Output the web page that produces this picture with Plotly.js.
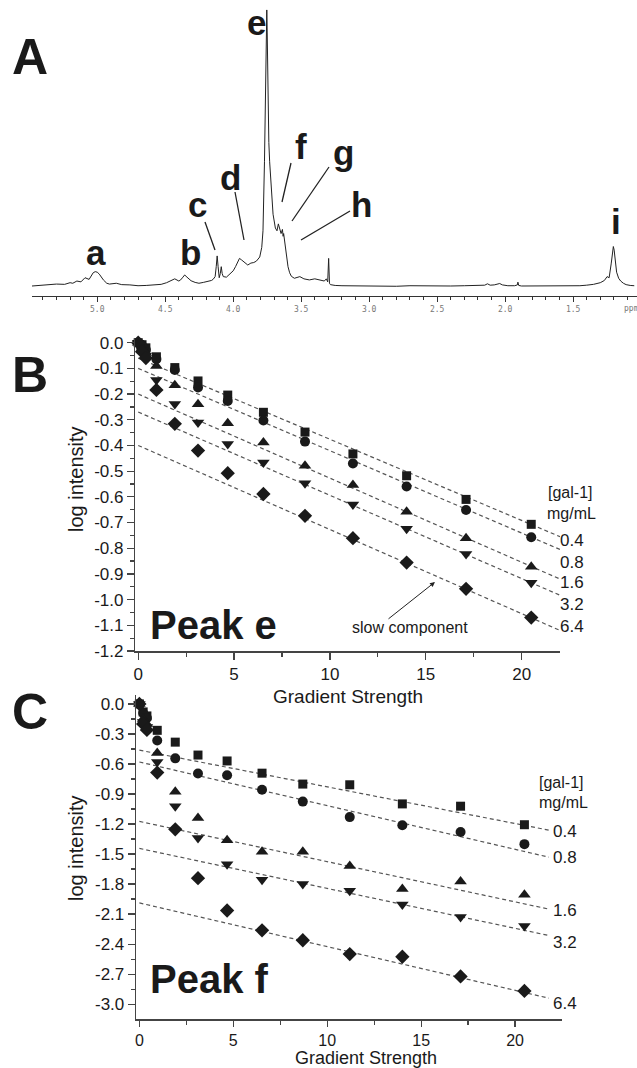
<!DOCTYPE html>
<html><head><meta charset="utf-8">
<script src="https://cdn.plot.ly/plotly-3.0.1.min.js"></script>
<style>html,body{margin:0;padding:0;background:#fff}#chart{width:637px;height:1068px}</style>
</head><body><div id="chart"></div>
<script>
// ---------- Panel A: 1H NMR spectrum (ppm vs relative intensity) ----------
const specPpm = [
 5.48,5.42,5.36,5.30,5.24,5.20,5.18,5.15,5.12,5.09,
 5.06,5.03,5.015,5.0,4.985,4.955,4.93,4.91,4.86,4.82,
 4.76,4.70,4.64,4.58,4.53,4.49,4.45,4.43,4.40,4.387,
 4.37,4.357,4.34,4.31,4.28,4.252,4.22,4.193,4.16,4.148,
 4.133,4.125,4.118,4.111,4.103,4.095,4.088,4.081,4.073,4.05,
 4.028,4.0,3.983,3.965,3.954,3.94,3.924,3.91,3.893,3.87,
 3.849,3.83,3.805,3.79,3.781,3.77,3.762,3.756,3.753,3.750,
 3.745,3.738,3.732,3.72,3.707,3.69,3.678,3.668,3.658,3.648,
 3.638,3.633,3.629,3.622,3.614,3.605,3.597,3.585,3.572,3.55,
 3.51,3.48,3.44,3.40,3.36,3.33,3.315,3.305,3.298,3.292,
 3.285,3.25,3.2,3.1,3.0,2.9,2.8,2.7,2.6,2.5,
 2.4,2.3,2.2,2.15,2.13,2.11,2.08,2.05,2.04,2.02,
 1.98,1.93,1.91,1.906,1.90,1.88,1.8,1.7,1.6,1.5,
 1.45,1.40,1.35,1.30,1.27,1.25,1.235,1.22,1.21,1.204,
 1.198,1.19,1.18,1.165,1.15,1.13,1.11,1.08,1.05];
const specInt = [
 0,0.2,0.3,0.7,0.6,1.2,1.0,1.8,1.5,3.0,
 2.4,4.8,5.2,5.0,4.3,2.2,1.0,0.7,1.0,0.5,
 0.4,0.1,0.2,0.3,0.6,1.2,2.0,2.6,1.8,2.2,
 3.2,4.0,3.2,1.9,1.3,1.0,1.3,1.6,2.0,2.4,
 3.4,7.0,10.9,7.0,3.0,4.5,7.0,4.5,3.4,3.2,
 4.3,5.5,7.0,9.3,10.0,9.5,8.8,8.0,7.6,8.3,
 8.5,9.0,10.5,14.0,20.0,45,75,92,100,92,
 72,52,45,35,26,21,20,22.5,21,19,
 20.5,18,19,16,12,9,7,4.8,3.5,2.8,
 3.4,2.6,2.2,2.6,2.3,1.8,2.6,1.5,10.0,1.0,
 0.5,0.2,0.1,0.0,0.1,0,-0.1,0.1,0,-0.1,
 0,0.1,0.1,0.3,0.8,0.3,0.4,0.7,0.9,0.4,
 0.1,0.1,0.4,1.4,0.2,0,0,-0.1,0,0,
 0.1,0.3,0.6,1.2,2.0,3.4,3.0,8.0,12.5,14.3,
 13.0,9.0,5.0,2.8,1.8,1.0,0.5,0.2,0.1];
const ppmTickVals = [5.0,4.5,4.0,3.5,3.0,2.5,2.0,1.5];
const ppmTickText = ['5.0','4.5','4.0','3.5','3.0','2.5','2.0','1.5'];
const peakLetters = ['a','b','c','d','e','f','g','h','i'];

// ---------- Panels B and C ----------
const concLabels = ['0.4','0.8','1.6','3.2','6.4'];
const gradient = [0, 0.2, 0.4, 0.95, 1.91, 3.12, 4.67, 6.53, 8.70, 11.2, 14.0, 17.1, 20.5];

// Peak e (panel B) log intensity
const peakE_04 = [0,-0.008,-0.02,-0.055,-0.097,-0.149,-0.204,-0.271,-0.348,-0.433,-0.518,-0.61,-0.707];
const peakE_08 = [0,-0.012,-0.028,-0.064,-0.106,-0.174,-0.227,-0.303,-0.385,-0.47,-0.56,-0.651,-0.757];
const peakE_16 = [0,-0.02,-0.04,-0.091,-0.166,-0.24,-0.314,-0.389,-0.479,-0.554,-0.658,-0.761,-0.872];
const peakE_32 = [0,-0.03,-0.05,-0.145,-0.239,-0.311,-0.394,-0.466,-0.547,-0.63,-0.724,-0.822,-0.934];
const peakE_64 = [0,-0.035,-0.06,-0.184,-0.316,-0.42,-0.508,-0.589,-0.674,-0.761,-0.856,-0.958,-1.07];
// slow-component fit lines (panel B), at x = fitB_x
const fitB_x = [0, 22];
const fitE_04 = [-0.06, -0.755];
const fitE_08 = [-0.10, -0.805];
const fitE_16 = [-0.20, -0.92];
const fitE_32 = [-0.27, -0.983];
const fitE_64 = [-0.40, -1.12];

// Peak f (panel C) log intensity
const peakF_04 = [0,-0.08,-0.12,-0.264,-0.382,-0.511,-0.57,-0.692,-0.801,-0.808,-0.999,-1.022,-1.207];
const peakF_08 = [0,-0.09,-0.14,-0.366,-0.544,-0.696,-0.712,-0.857,-0.976,-1.131,-1.213,-1.279,-1.401];
const peakF_16 = [0,-0.15,-0.20,-0.49,-0.877,-1.141,-1.362,-1.477,-1.477,-1.619,-1.85,-1.774,-1.906];
const peakF_32 = [0,-0.18,-0.23,-0.58,-1.022,-1.339,-1.602,-1.757,-1.80,-1.866,-2.005,-2.13,-2.219];
const peakF_64 = [0,-0.20,-0.26,-0.686,-1.253,-1.741,-2.064,-2.262,-2.361,-2.499,-2.526,-2.723,-2.868];
const fitC_x = [0, 21.8];
const fitF_04 = [-0.462, -1.261];
const fitF_08 = [-0.58, -1.531];
const fitF_16 = [-1.174, -2.05];
const fitF_32 = [-1.444, -2.314];
const fitF_64 = [-1.988, -2.94];

const tickValsB = [0,-0.1,-0.2,-0.3,-0.4,-0.5,-0.6,-0.7,-0.8,-0.9,-1.0,-1.1,-1.2];
const tickTextB = ['0.0','-0.1','-0.2','-0.3','-0.4','-0.5','-0.6','-0.7','-0.8','-0.9','-1.0','-1.1','-1.2'];
const tickValsC = [0,-0.3,-0.6,-0.9,-1.2,-1.5,-1.8,-2.1,-2.4,-2.7,-3.0];
const tickTextC = ['0.0','-0.3','-0.6','-0.9','-1.2','-1.5','-1.8','-2.1','-2.4','-2.7','-3.0'];
const xTickVals = [0,5,10,15,20];
const xTickText = ['0','5','10','15','20'];

// ---------- helpers ----------
const W = 637, H = 1068;
const px = x => x / W;
const py = y => 1 - y / H;
const FONT = 'Liberation Sans, Arial, sans-serif';
const INK = '#1a1a1a';
const symbols = ['square','circle','triangle-up','triangle-down','diamond'];
const msizes = [9,10,11,11,11];

const traces = [];
traces.push({x: specPpm, y: specInt, xaxis:'x', yaxis:'y', mode:'lines',
  line:{color:'#222', width:1}, hoverinfo:'skip'});

function addPanel(xa, ya, fx, fits, pts) {
  fits.forEach(f => traces.push({x: fx, y: f, xaxis: xa, yaxis: ya, mode:'lines',
    line:{color:'#555', width:1.2, dash:'4px,3px'}, hoverinfo:'skip'}));
  pts.forEach((p, i) => traces.push({x: gradient, y: p, xaxis: xa, yaxis: ya, mode:'markers',
    cliponaxis:false, marker:{symbol: symbols[i], size: msizes[i], color: INK, line:{width:0}}}));
}
addPanel('x2','y2', fitB_x, [fitE_04,fitE_08,fitE_16,fitE_32,fitE_64], [peakE_04,peakE_08,peakE_16,peakE_32,peakE_64]);
addPanel('x3','y3', fitC_x, [fitF_04,fitF_08,fitF_16,fitF_32,fitF_64], [peakF_04,peakF_08,peakF_16,peakF_32,peakF_64]);

const annotations = [];
function ann(text, x, y, size, opt) {
  annotations.push(Object.assign({text, x: px(x), y: py(y), xref:'paper', yref:'paper',
    showarrow:false, xanchor:'center', yanchor:'middle',
    font:{family: FONT, size, color: INK}}, opt || {}));
}
// Panel letters
ann('<b>A</b>', 30, 57, 50);
ann('<b>B</b>', 30, 375, 50);
ann('<b>C</b>', 30, 712, 50);
// Spectrum peak letters
const letterPos = [[96,253],[190,252],[197,205],[230,177],[256,22],[301,147],[343,152],[362,205],[616,222]];
peakLetters.forEach((l, i) => ann('<b>' + l + '</b>', letterPos[i][0], letterPos[i][1], 35));
ann('ppm', 622, 308, 8, {xanchor:'left', font:{family:'DejaVu Sans Mono, monospace', size:8, color:'#777'}});

// Leader lines from peak letters to the spectrum (pixel endpoints)
const leaders = [[205,222,215,250],[235,192,244,240],[291,163,282,202],[329,167,292,221],[350,211,301,240]];
const shapes = leaders.map(l => ({type:'line', xref:'paper', yref:'paper',
  x0: px(l[0]), y0: py(l[1]), x1: px(l[2]), y1: py(l[3]), line:{color:'#222', width:1.3}}));

// Panel B labels
ann('<b>Peak e</b>', 148, 625, 40, {xanchor:'left'});
ann('slow component', 410, 627, 16);
annotations.push({text:'', xref:'paper', yref:'paper', x: px(435), y: py(582), ax: -48, ay: 38,
  showarrow:true, arrowhead:2, arrowsize:1, arrowwidth:1, arrowcolor:'#222', standoff:0});
ann('[gal-1]', 570, 492, 16);
ann('mg/mL', 571, 513, 16);
const concYB = [540, 562, 583, 604, 626];
concLabels.forEach((c, i) => ann(c, 572, concYB[i], 17));
ann('Gradient Strength', 348, 696, 19);
ann('log intensity', 76, 479, 20, {textangle:-90});

// Panel C labels
ann('<b>Peak f</b>', 148, 979, 40, {xanchor:'left'});
ann('[gal-1]', 561, 782, 16);
ann('mg/mL', 563, 802, 16);
const concYC = [831, 857, 910, 942, 1003];
concLabels.forEach((c, i) => ann(c, 565, concYC[i], 17));
ann('Gradient Strength', 366, 1058, 18, {yanchor:'middle'});
ann('log intensity', 76, 848, 20, {textangle:-90});

const axBase = {showgrid:false, zeroline:false, showline:true, linecolor:'#444', linewidth:1.5,
  ticks:'outside', ticklen:7, tickwidth:1.2, tickcolor:'#444', tickfont:{family: FONT, size:17, color: INK}};

const layout = {
  width: W, height: H, autosize:false, showlegend:false,
  margin:{l:0, r:0, t:0, b:0}, paper_bgcolor:'#fff', plot_bgcolor:'#fff',
  xaxis: {domain:[px(32), 1], range:[5.48, 1.03], anchor:'y', showgrid:false, zeroline:false,
    showline:true, linecolor:'#333', linewidth:1, ticks:'outside', ticklen:5, tickwidth:1, tickcolor:'#333',
    tickmode:'array', tickvals: ppmTickVals, ticktext: ppmTickText,
    tickfont:{family:'DejaVu Sans Mono, monospace', size:8, color:'#777'},
    minor:{dtick:0.1, tick0:0, ticks:'outside', ticklen:3, tickcolor:'#333', showgrid:false}},
  yaxis: {domain:[py(296), 1], range:[-3.62, 103.6], visible:false, fixedrange:true},
  xaxis2: Object.assign({}, axBase, {domain:[px(135.4), px(560)], range:[-0.146, 22.0], anchor:'y2',
    tickmode:'array', tickvals: xTickVals, ticktext: xTickText,
    minor:{dtick:2.5, tick0:0, ticks:'outside', ticklen:4, tickcolor:'#444', showgrid:false}}),
  yaxis2: Object.assign({}, axBase, {domain:[py(651), py(338.3)], range:[-1.2, 0.017], anchor:'x2',
    tickmode:'array', tickvals: tickValsB, ticktext: tickTextB,
    minor:{dtick:0.05, tick0:0, ticks:'outside', ticklen:4, tickcolor:'#444', showgrid:false}}),
  xaxis3: Object.assign({}, axBase, {domain:[px(136.2), px(561.8)], range:[-0.17, 22.49], anchor:'y3',
    tickmode:'array', tickvals: xTickVals, ticktext: xTickText, ticklen:6,
    tickfont:{family: FONT, size:16, color: INK},
    minor:{dtick:2.5, tick0:0, ticks:'outside', ticklen:4, tickcolor:'#444', showgrid:false}}),
  yaxis3: Object.assign({}, axBase, {domain:[py(1019), py(695)], range:[-3.148, 0.089], anchor:'x3',
    tickmode:'array', tickvals: tickValsC, ticktext: tickTextC,
    minor:{dtick:0.15, tick0:0, ticks:'outside', ticklen:4, tickcolor:'#444', showgrid:false}}),
  annotations, shapes
};
Plotly.newPlot('chart', traces, layout, {staticPlot:true, displayModeBar:false});
</script></body></html>
